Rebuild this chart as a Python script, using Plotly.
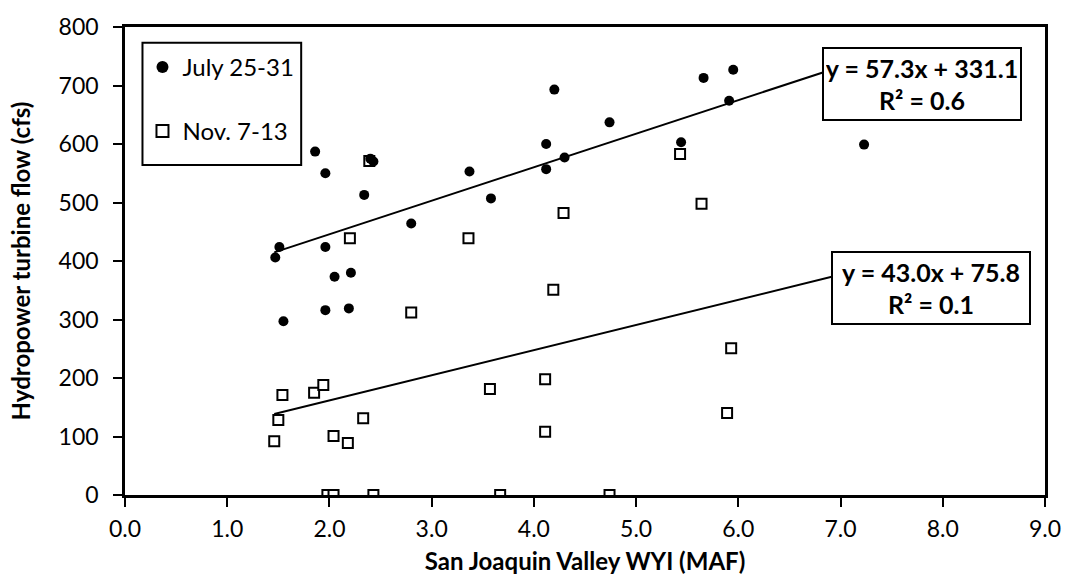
import plotly.graph_objects as go

# ---- data ----
july_x = [1.47, 1.51, 1.55, 1.86, 1.96, 1.96, 1.96, 2.05, 2.19, 2.21, 2.34, 2.40, 2.43,
          2.80, 3.37, 3.58, 4.12, 4.12, 4.20, 4.30, 4.74, 5.44, 5.66, 5.91, 5.95, 7.23]
july_y = [406, 424, 297, 587, 550, 424, 316, 373, 319, 380, 513, 575, 570,
          464, 553, 507, 600, 557, 693, 577, 637, 603, 713, 674, 727, 599]

nov_x = [1.46, 1.50, 1.54, 1.85, 1.94, 1.98, 2.04, 2.04, 2.18, 2.20, 2.33, 2.39, 2.43,
         2.80, 3.36, 3.57, 3.67, 4.11, 4.11, 4.19, 4.29, 4.74, 5.43, 5.64, 5.89, 5.93]
nov_y = [92, 128, 171, 175, 188, 0, 101, 0, 89, 439, 131, 571, 0,
         312, 439, 181, 0, 198, 108, 351, 482, 0, 583, 498, 140, 251]

series_names = ["July 25-31", "Nov. 7-13"]
july_fit = (57.3, 331.1)   # slope, intercept
nov_fit = (43.0, 75.8)
july_r2 = 0.6
nov_r2 = 0.1

x_ticks = [0, 1, 2, 3, 4, 5, 6, 7, 8, 9]
y_ticks = [0, 100, 200, 300, 400, 500, 600, 700, 800]

FONT = "Lato"

fig = go.Figure()

# markers
fig.add_trace(go.Scatter(
    x=nov_x, y=nov_y, mode="markers", name=series_names[1],
    marker=dict(symbol="square", size=10, color="white",
                line=dict(color="black", width=2)),
    legendgroup="b", legendrank=2))
fig.add_trace(go.Scatter(
    x=july_x, y=july_y, mode="markers", name=series_names[0],
    marker=dict(symbol="circle", size=10, color="black",
                line=dict(color="black", width=0)),
    legendgroup="a", legendrank=1))

# trendlines
all_x = july_x + nov_x
x0, x1 = min(all_x), max(all_x)
for (m, b) in (july_fit, nov_fit):
    fig.add_trace(go.Scatter(
        x=[x0, x1], y=[m * x0 + b, m * x1 + b], mode="lines",
        line=dict(color="black", width=2), showlegend=False, hoverinfo="skip"))

# trendline labels
for (m, b), r2, (ax, ay) in ((july_fit, july_r2, (6.816, 766.6)),
                            (nov_fit, nov_r2, (6.91, 417.6))):
    fig.add_annotation(
        x=ax, y=ay, xref="x", yref="y", xanchor="left", yanchor="top",
        text=f"y = {m:.1f}x + {b:.1f}<br>R² = {r2:.1f}",
        showarrow=False, align="center",
        font=dict(family=FONT, size=25, color="black", weight="bold"),
        bgcolor="white", bordercolor="black", borderwidth=2, borderpad=2,
        width=192, height=66)

# legend frame
fig.add_shape(type="rect", xref="x domain", yref="y domain",
              x0=0.019, x1=0.1915, y0=0.705, y1=0.9665,
              line=dict(color="black", width=2), fillcolor="rgba(0,0,0,0)")

axis_common = dict(
    showline=True, linecolor="black", linewidth=2.5, mirror=True,
    ticks="outside", ticklen=9, tickwidth=2, tickcolor="black",
    showgrid=False, zeroline=False,
    tickfont=dict(family=FONT, size=23, color="black"),
)

fig.update_xaxes(range=[0, 9], tickvals=x_ticks, tickformat=".1f",
                 ticklabelstandoff=3,
                 title=dict(text="San Joaquin Valley WYI (MAF)", standoff=12,
                            font=dict(family=FONT, size=24, color="black", weight="bold")),
                 **axis_common)
fig.update_yaxes(range=[0, 800], tickvals=y_ticks,
                 ticklabelstandoff=10,
                 title=dict(text="Hydropower turbine flow (cfs)", standoff=22,
                            font=dict(family=FONT, size=24, color="black", weight="bold")),
                 **axis_common)

fig.update_layout(
    width=1073, height=583,
    margin=dict(l=125, r=20, t=17, b=87),
    plot_bgcolor="white", paper_bgcolor="white",
    font=dict(family=FONT, color="black"),
    legend=dict(x=0.019, y=0.962, xanchor="left", yanchor="top",
                borderwidth=0, bgcolor="rgba(0,0,0,0)",
                font=dict(family=FONT, size=24, color="black"),
                traceorder="grouped", tracegroupgap=30,
                itemsizing="constant"),
    showlegend=True,
)

fig.write_html("out.html", config={"displayModeBar": False},
               post_script="document.body.style.margin='0';")
